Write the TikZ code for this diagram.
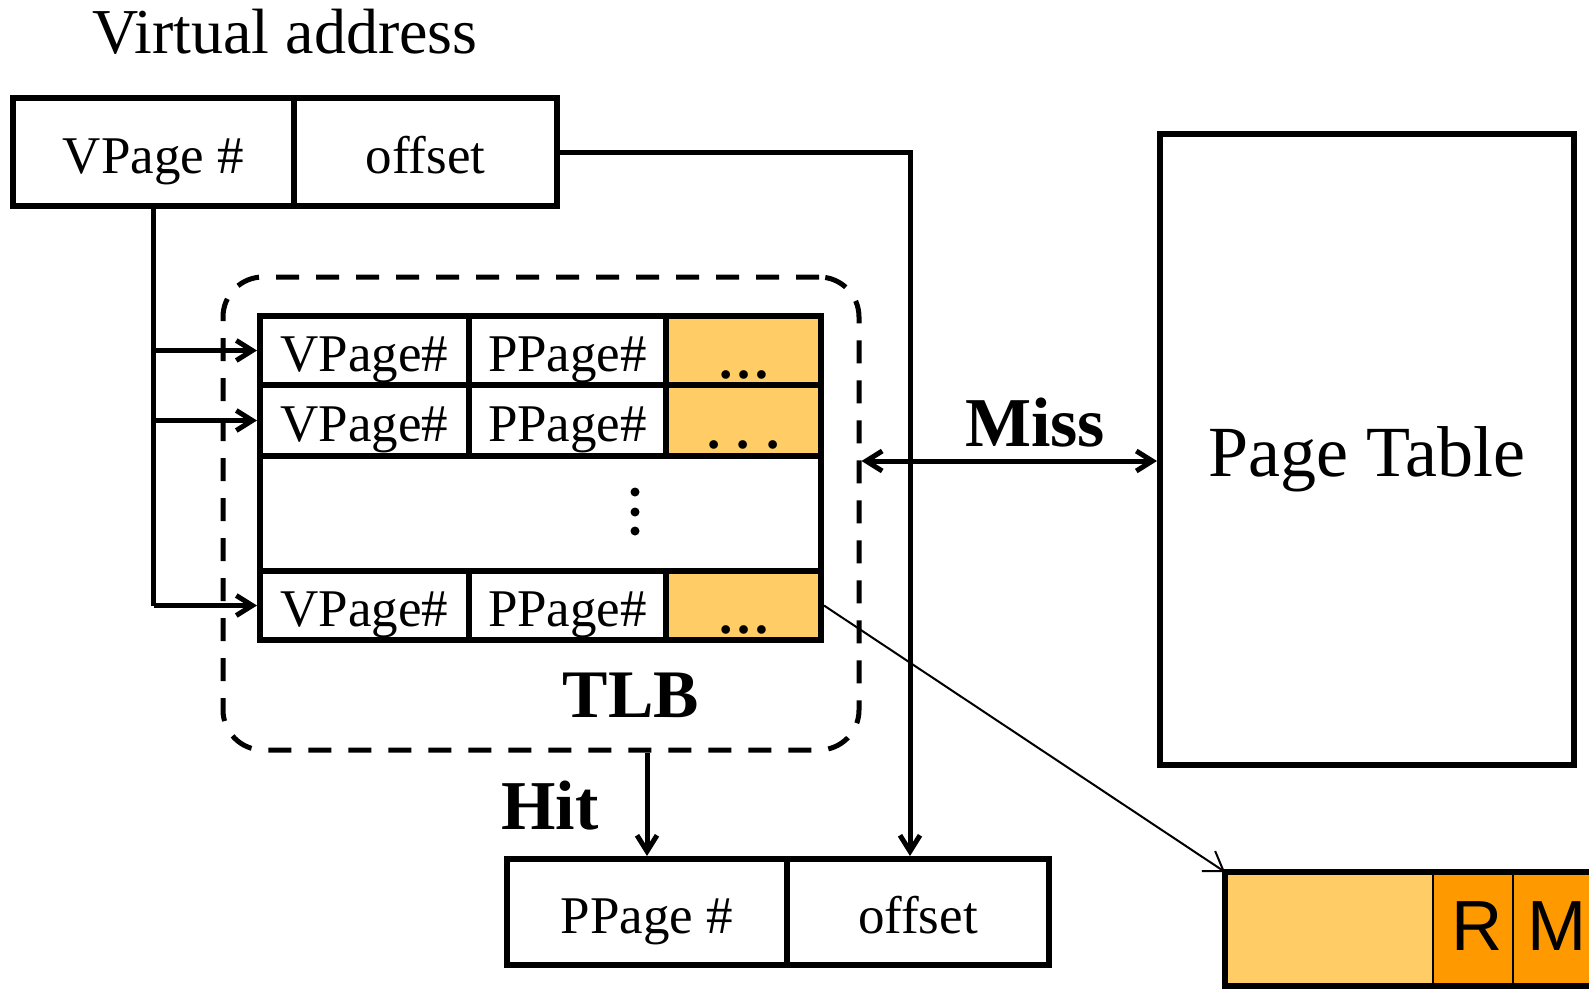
\documentclass[tikz,border=0pt]{standalone}
\usepackage{fontspec}
\setmainfont{Liberation Serif}
\newfontfamily\arialf{Liberation Sans}
\usetikzlibrary{arrows.meta}
\definecolor{lorange}{HTML}{FFCC66}
\definecolor{dorange}{HTML}{FF9900}
\begin{document}
\begin{tikzpicture}[x=1pt,y=-1pt,
  cell/.style={draw, line width=6, inner sep=0, text height=42pt, text depth=0pt,
    font=\fontsize{53}{60}\selectfont},
  ocell/.style={cell, fill=lorange, text height=56pt, font=\fontsize{53}{60}\selectfont\bfseries},
  conn/.style={line width=5},
  tip/.style={-{Straight Barb[length=16pt,width=20pt]}},
  lbl/.style={inner sep=0, anchor=base, font=\fontsize{70}{80}\selectfont\bfseries},
  rmtxt/.style={inner sep=0, anchor=base, font=\arialf\fontsize{71}{80}\selectfont},
]
\useasboundingbox (0,0) rectangle (1589,988);
\clip (0,0) rectangle (1589,988);

% title
\node[inner sep=0, anchor=base, font=\fontsize{64}{72}\selectfont] (title) at (285,53) {Virtual address};

% virtual address box
\node[cell, minimum width=281, minimum height=108] (vp) at (153.5,152) {VPage \#};
\node[cell, minimum width=263, minimum height=108] (off) at (425.5,152) {offset};

% TLB dashed frame
\node[draw, dash pattern=on 23pt off 17pt, line width=5, rounded corners=40pt,
  minimum width=636, minimum height=473, inner sep=0] (tlb) at (541,513.5) {};

% TLB table
\node[cell, minimum width=209, minimum height=69] (v1) at (364.5,350.5) {VPage\#};
\node[cell, minimum width=197, minimum height=69] (p1) at (567.5,350.5) {PPage\#};
\node[ocell, minimum width=155, minimum height=69] (o1) at (743.5,350.5) {\ldots};
\node[cell, minimum width=209, minimum height=71] (v2) at (364.5,420.5) {VPage\#};
\node[cell, minimum width=197, minimum height=71] (p2) at (567.5,420.5) {PPage\#};
\node[ocell, minimum width=155, minimum height=71] (o2) at (743.5,420.5) {.\hspace{0.3em}.\hspace{0.3em}.};
\node[cell, minimum width=561, minimum height=115] (mid) at (540.5,513.5) {};
\node[cell, minimum width=209, minimum height=69] (v4) at (364.5,605.5) {VPage\#};
\node[cell, minimum width=197, minimum height=69] (p4) at (567.5,605.5) {PPage\#};
\node[ocell, minimum width=155, minimum height=69] (o4) at (743.5,605.5) {\ldots};
\fill (635,492) circle (4.5) (635,512) circle (4.5) (635,531) circle (4.5);

\node[lbl, font=\fontsize{68}{76}\selectfont\bfseries] (tlbl) at (631,717) {TLB};

% Page table
\node[draw, line width=6, inner sep=0, minimum width=414, minimum height=631,
  text height=53pt, text depth=0pt, font=\fontsize{72}{80}\selectfont] (pt) at (1367,449.5) {Page Table};

% physical address box
\node[cell, minimum width=280, minimum height=106] (bpp) at (647,912) {PPage \#};
\node[cell, minimum width=262, minimum height=106] (boff) at (918,912) {offset};

% PTE box
\node[fill=lorange, draw, line width=2, inner sep=0, minimum width=207, minimum height=112] (rmA) at (1329.5,929) {};
\node[fill=dorange, draw, line width=2, inner sep=0, minimum width=80, minimum height=112] (rmR) at (1473,929) {};
\node[fill=dorange, draw, line width=2, inner sep=0, minimum width=80, minimum height=112] (rmM) at (1553,929) {};
\node[rmtxt] (rtxt) at (1477,950) {R};
\node[rmtxt, anchor=base west] (mtxt) at (1527,950) {M};
\draw[line width=6] (rmA.north west) rectangle (rmM.south east);

% connectors
\draw[conn] (vp.south) -- (vp.south |- v4.west);
\draw[conn,tip] (vp.south |- v1.west) -- (v1.west);
\draw[conn,tip] (vp.south |- v2.west) -- (v2.west);
\draw[conn,tip] (vp.south |- v4.west) -- (v4.west);

\coordinate (c1) at (910,152);
\draw[conn,tip] (off.east) -- (c1) -- (c1 |- boff.north);

\coordinate (m) at (0,461);
\draw[conn,{Straight Barb[length=16pt,width=20pt]}-{Straight Barb[length=16pt,width=20pt]}] (tlb.east |- m) -- (pt.west |- m);
\node[lbl] (miss) at (1035,446) {Miss};

\draw[conn,tip] (bpp.north |- tlb.south) -- (bpp.north);
\node[lbl] (hit) at (550,829) {Hit};

\draw[line width=2, -{Straight Barb[length=18pt,width=24pt]}] (o4.east) -- (rmA.north west);
\end{tikzpicture}
\end{document}
